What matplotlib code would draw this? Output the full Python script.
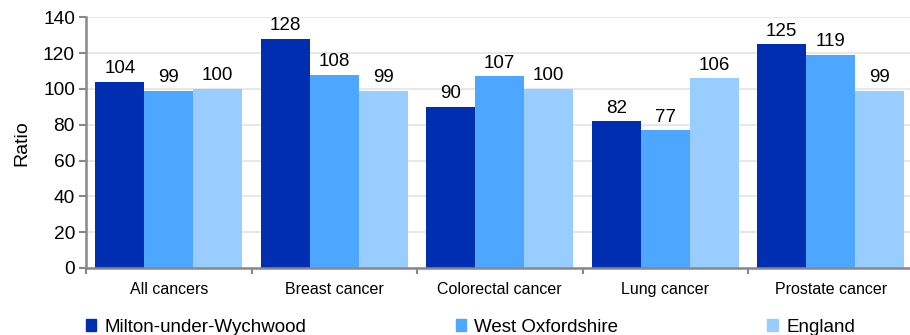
import matplotlib
matplotlib.use("Agg")
from matplotlib import pyplot as plt
from matplotlib.patches import Patch
import numpy as np

plt.rcParams.update({
    "font.family": ["Liberation Sans", "DejaVu Sans"],
    "font.size": 13,
})

categories = ["All cancers", "Breast cancer", "Colorectal cancer", "Lung cancer", "Prostate cancer"]
series_names = ["Milton-under-Wychwood", "West Oxfordshire", "England"]
milton = [104, 128, 90, 82, 125]
west_oxon = [99, 108, 107, 77, 119]
england = [100, 99, 100, 106, 99]
colors = ["#002EB0", "#4DA6FF", "#99CCFF"]
yticks = [0, 20, 40, 60, 80, 100, 120, 140]

fig = plt.figure(figsize=(9.1, 3.35), dpi=100)
ax = fig.add_axes([86 / 910, 1 - 268 / 335, 827.5 / 910, 250.7 / 335])

x = np.arange(len(categories))
width = 0.296
for i, (vals, name, c) in enumerate(zip([milton, west_oxon, england], series_names, colors)):
    bars = ax.bar(x + (i - 1) * width, vals, width, color=c, label=name, zorder=2)
    for b, v in zip(bars, vals):
        ax.text(b.get_x() + b.get_width() / 2, v + 2.5, str(v),
                ha="center", va="bottom", fontsize=13.5)

ax.set_xlim(-0.5, len(categories) - 0.5)
ax.set_ylim(0, 140)
ax.set_yticks(yticks)
ax.tick_params(axis="y", labelsize=13.8, length=5, color="#888888", width=1.5, pad=3)
ax.set_xticks(x)
ax.set_xticklabels(categories, fontsize=11.5)
ax.tick_params(axis="x", length=0, pad=10)
ax.set_xticks(np.arange(len(categories)) - 0.5, minor=True)
ax.tick_params(axis="x", which="minor", length=4, color="#888888", width=1.5)
ax.grid(axis="y", color="#E8E8E8", linewidth=1.5, zorder=0)
ax.set_axisbelow(True)
for s in ["top", "right"]:
    ax.spines[s].set_visible(False)
for s in ["left", "bottom"]:
    ax.spines[s].set_color("#888888")
    ax.spines[s].set_linewidth(1.8)
ax.set_ylabel("Ratio", fontsize=14, labelpad=9)

handles = [Patch(color=c) for c in colors]
fig.legend(handles, series_names, loc="center left", ncol=3, mode="expand",
           bbox_to_anchor=(86 / 910, 1 - 327 / 335, (855 - 86) / 910, 0),
           frameon=False, fontsize=13.5, handlelength=0.55, handleheight=0.55,
           handletextpad=0.45, borderpad=0, borderaxespad=0)

fig.savefig("out.png", dpi=100)
